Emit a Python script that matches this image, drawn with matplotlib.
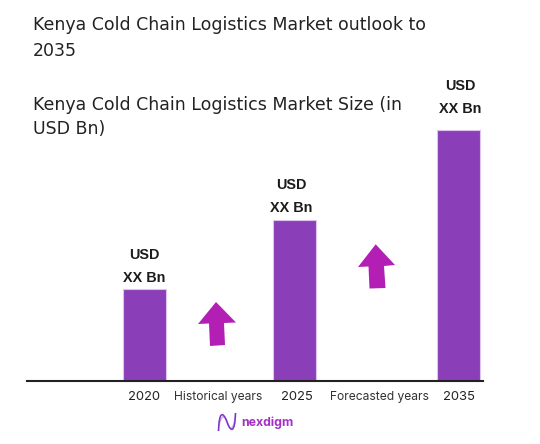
import matplotlib
matplotlib.use('Agg')
import matplotlib.pyplot as plt
from matplotlib.patches import Polygon, PathPatch
from matplotlib.path import Path

plt.rcParams['font.family'] = ['Inter', 'DejaVu Sans']

# data
years = ['2020', '2025', '2035']
bar_values = [92, 161, 251]
bar_labels = ['USD\nXX Bn', 'USD\nXX Bn', 'USD\nXX Bn']
between_labels = ['Historical years', 'Forecasted years']
title = 'Kenya Cold Chain Logistics Market outlook to\n2035'
subtitle = 'Kenya Cold Chain Logistics Market Size (in\nUSD Bn)'

bar_x = [144.5, 294.5, 458.5]
year_x = [144, 296.5, 459]
label_x = [144, 291, 460]
label_y = [266.5, 196.5, 97.5]
between_x = [218.5, 379.5]

W, H = 540, 444
fig = plt.figure(figsize=(W / 100, H / 100), dpi=100)

# full figure axes, units are pixels
ax = fig.add_axes([0, 0, 1, 1])
ax.set_xlim(0, W)
ax.set_ylim(H, 0)
ax.axis('off')

# bars sit on the baseline at y=381
base = 381
ax.bar(bar_x, [-v for v in bar_values], width=43, bottom=base, color='#8a3fb8',
       edgecolor='#dcc4ec', linewidth=0.8, zorder=2)
ax.plot([27, 483], [base, base], color='#222222', lw=1.5, zorder=3)

for x, y, lab in zip(label_x, label_y, bar_labels):
    ax.text(x, y, lab, ha='center', va='center', fontsize=10.4, family=['Liberation Sans'],
            fontweight='bold', color='#1c1c1c', linespacing=1.85)

for x, y in zip(year_x, years):
    ax.text(x, 396.5, y, ha='center', va='center', fontsize=9.4, color='#222222')
for x, lab in zip(between_x, between_labels):
    ax.text(x, 396.5, lab, ha='center', va='center', fontsize=8.7, color='#333333')

# arrows
arrow1 = [(216, 302), (236, 322.5), (224, 323), (225, 345), (210, 346), (209, 323.5), (198, 324)]
arrow2 = [(375.7, 244.3), (395, 265), (384, 266), (385.5, 288), (369.5, 288.5), (368.5, 266.5), (358, 267)]
for pts in (arrow1, arrow2):
    ax.add_patch(Polygon(pts, closed=True, facecolor='#b31fb5', edgecolor='none', zorder=2))

ax.text(33, 16.5, title, ha='left', va='top', fontsize=12.55, color='#222222',
        family=['DejaVu Sans'], linespacing=1.5)
ax.text(33, 95.5, subtitle, ha='left', va='top', fontsize=12.5, color='#222222',
        family=['DejaVu Sans'], linespacing=1.5)

# logo
codes = [Path.MOVETO] + [Path.CURVE4] * 6
logo_dark = [(218.5, 431), (219, 411), (223, 411), (227, 422), (231, 433), (235, 433), (235.5, 413)]
logo_light = [(218.5, 431), (220, 414), (225, 413), (228, 424), (230, 431), (234, 431), (235.5, 413)]
ax.add_patch(PathPatch(Path(logo_light, codes), fill=False, edgecolor='#d3a6e8', lw=1.0))
ax.add_patch(PathPatch(Path(logo_dark, codes), fill=False, edgecolor='#7a35c8', lw=1.1))
ax.text(241.5, 422.5, 'nexdigm', ha='left', va='center', fontsize=8.9, fontweight='bold', color='#a52fc8')

fig.savefig('out.png', dpi=100)
